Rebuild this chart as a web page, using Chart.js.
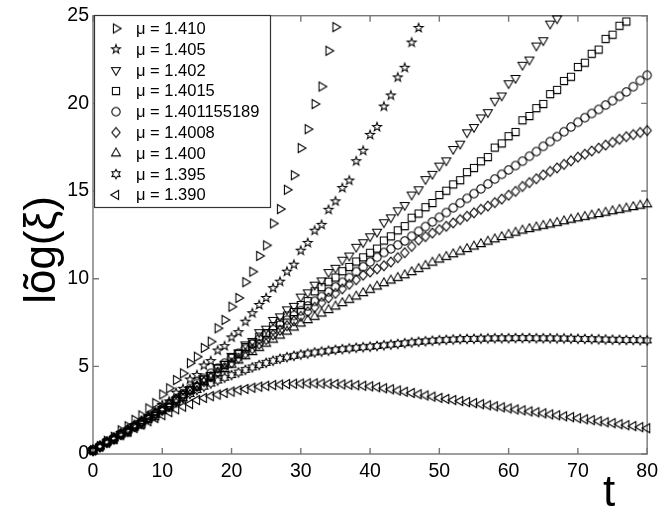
<!DOCTYPE html>
<html>
<head>
<meta charset="utf-8">
<script src="https://cdn.jsdelivr.net/npm/chart.js@4.4.0/dist/chart.umd.min.js"></script>
<style>
  html, body { margin: 0; padding: 0; background: #fff; }
  #chart { display: block; }
</style>
</head>
<body>
<canvas id="chart" width="664" height="514"></canvas>
<script>
// time steps (x axis)
const tSteps = [0,1,2,3,4,5,6,7,8,9,10,11,12,13,14,15,16,17,18,19,20,
  21,22,23,24,25,26,27,28,29,30,31,32,33,34,35,36,37,38,39,40,
  41,42,43,44,45,46,47,48,49,50,51,52,53,54,55,56,57,58,59,60,
  61,62,63,64,65,66,67,68,69,70,71,72,73,74,75,76,77,78,79,80];

const xTicks = [0, 10, 20, 30, 40, 50, 60, 70, 80];
const yTicks = [0, 5, 10, 15, 20, 25];

const muLabels = ['1.410', '1.405', '1.402', '1.4015', '1.401155189', '1.4008', '1.400', '1.395', '1.390'];

// log~(xi) per mu, one value per time step
const mu1410 = [0.22,0.45,0.75,0.98,1.35,1.58,1.95,2.2,2.6,2.9,3.4,3.75,4.22,4.6,5.18,5.55,6.05,6.41,7.17,7.65,
  8.4,8.9,9.8,10.4,11.3,11.9,13.15,13.97,15.07,15.9,17.45,18.53,19.96,20.96,23.0,24.35];

const mu1405 = [0.22,0.43,0.66,0.86,1.1,1.3,1.6,1.8,2.16,2.36,2.8,3.0,3.5,3.72,4.25,4.5,5.05,5.3,5.9,6.15,
  6.65,6.95,7.55,8.03,8.5,8.9,9.46,9.83,10.4,10.8,11.6,12.04,12.74,13.07,13.93,14.41,15.17,15.6,16.7,17.3,
  18.2,18.65,19.82,20.45,21.48,22.03,23.47,24.3];

const mu1402 = [0.22,0.42,0.7,0.86,1.14,1.3,1.6,1.76,2.06,2.24,2.56,2.74,3.1,3.3,3.7,3.9,4.3,4.5,4.95,5.15,
  5.6,5.8,6.25,6.45,6.95,7.15,7.65,7.85,8.25,8.45,8.98,9.22,9.66,9.9,10.38,10.62,11.08,11.32,11.82,12.08,
  12.42,12.68,13.22,13.5,13.9,14.2,14.8,15.1,15.68,15.98,16.45,16.75,17.4,17.7,18.35,18.65,19.2,19.5,20.15,20.45,
  21.15,21.45,22.2,22.5,23.3,23.6,24.55,24.85];

const mu14015 = [0.22,0.42,0.68,0.82,1.12,1.24,1.55,1.69,2.0,2.16,2.5,2.66,3.05,3.23,3.64,3.84,4.26,4.46,4.88,5.08,
  5.5,5.7,6.1,6.3,6.7,6.9,7.3,7.5,7.9,8.1,8.5,8.72,9.28,9.52,9.83,10.07,10.43,10.67,10.98,11.22,
  11.48,11.72,12.18,12.42,12.76,13.0,13.48,13.72,14.08,14.32,14.78,15.02,15.38,15.62,16.08,16.32,16.7,16.94,17.48,17.72,
  18.13,18.37,19.04,19.28,19.73,19.97,20.53,20.77,21.28,21.52,22.08,22.32,22.83,23.07,23.68,23.92,24.43,24.67];

const muCrit = [0.22,0.44,0.67,0.9,1.13,1.36,1.59,1.83,2.07,2.32,2.57,2.86,3.15,3.44,3.73,4.02,4.31,4.6,4.89,5.18,
  5.47,5.74,6.01,6.28,6.55,6.82,7.09,7.36,7.63,7.9,8.17,8.44,8.71,8.98,9.25,9.52,9.79,10.06,10.4,10.68,
  10.95,11.22,11.49,11.7,11.92,12.15,12.42,12.7,12.97,13.24,13.5,13.77,14.04,14.31,14.58,14.85,15.12,15.4,15.68,15.95,
  16.2,16.45,16.7,16.98,17.25,17.55,17.82,18.1,18.38,18.65,18.92,19.18,19.42,19.65,19.9,20.15,20.4,20.65,20.95,21.3,21.6];

const mu14008 = [0.2,0.43,0.66,0.89,1.12,1.35,1.59,1.83,2.07,2.32,2.57,2.83,3.09,3.35,3.61,3.87,4.13,4.4,4.67,4.94,
  5.2,5.47,5.73,6.0,6.27,6.53,6.8,7.06,7.32,7.59,7.85,8.11,8.37,8.63,8.9,9.16,9.42,9.68,9.94,10.2,
  10.38,10.56,10.74,10.95,11.2,11.48,11.84,12.2,12.4,12.6,12.8,12.99,13.18,13.37,13.56,13.76,13.96,14.14,14.34,14.54,
  14.76,14.98,15.26,15.48,15.7,15.92,16.12,16.32,16.52,16.72,16.93,17.1,17.28,17.45,17.62,17.78,17.95,18.1,18.22,18.34,18.45];

const mu1400 = [0.2,0.44,0.68,0.92,1.16,1.4,1.64,1.88,2.12,2.36,2.6,2.85,3.1,3.35,3.6,3.85,4.1,4.35,4.6,4.85,
  5.1,5.34,5.58,5.82,6.06,6.3,6.53,6.76,6.99,7.22,7.45,7.64,7.83,8.02,8.22,8.42,8.61,8.8,8.99,9.18,
  9.37,9.56,9.75,9.9,10.05,10.2,10.38,10.56,10.74,10.92,11.1,11.25,11.4,11.55,11.7,11.84,11.98,12.12,12.25,12.38,
  12.51,12.63,12.75,12.84,12.93,13.02,13.1,13.19,13.28,13.37,13.45,13.53,13.61,13.69,13.77,13.85,13.93,14.01,14.09,14.17,14.25];

const mu1395 = [0.2,0.43,0.66,0.89,1.12,1.35,1.58,1.8,2.02,2.24,2.46,2.7,2.94,3.18,3.42,3.65,3.84,4.02,4.19,4.35,
  4.5,4.65,4.8,4.94,5.07,5.2,5.32,5.43,5.52,5.6,5.67,5.73,5.79,5.84,5.89,5.94,5.98,6.02,6.06,6.09,
  6.12,6.16,6.2,6.24,6.28,6.32,6.36,6.4,6.43,6.46,6.49,6.51,6.53,6.55,6.56,6.57,6.58,6.59,6.6,6.6,
  6.6,6.61,6.61,6.61,6.6,6.6,6.6,6.59,6.59,6.58,6.57,6.56,6.55,6.54,6.53,6.52,6.51,6.5,6.5,6.49,6.48];

const mu1390 = [0.2,0.42,0.64,0.86,1.07,1.28,1.48,1.68,1.87,2.05,2.22,2.39,2.55,2.7,2.85,3.08,3.2,3.3,3.39,3.48,
  3.56,3.64,3.71,3.78,3.84,3.89,3.93,3.96,3.99,4.01,4.02,4.03,4.03,4.02,4.01,3.99,3.97,3.95,3.92,3.89,
  3.86,3.81,3.75,3.69,3.62,3.55,3.48,3.41,3.34,3.27,3.2,3.14,3.08,3.02,2.96,2.9,2.84,2.78,2.72,2.66,
  2.6,2.54,2.49,2.43,2.38,2.32,2.26,2.21,2.15,2.1,2.04,1.98,1.93,1.87,1.81,1.76,1.7,1.64,1.59,1.53,1.47];

// marker glyphs drawn once onto little canvases
function makeMarker(kind) {
  const s = 18;
  const c = document.createElement('canvas');
  c.width = s; c.height = s;
  const g = c.getContext('2d');
  g.strokeStyle = '#000';
  g.lineWidth = 1.05;
  g.translate(s / 2, s / 2);
  g.beginPath();
  const poly = (n, rOut, rIn, start, sx) => {
    const k = rIn ? n * 2 : n;
    for (let i = 0; i < k; i++) {
      const r = rIn && i % 2 ? rIn : rOut;
      const a = start + i * 2 * Math.PI / k;
      const px = Math.cos(a) * r * (sx || 1), py = Math.sin(a) * r;
      i ? g.lineTo(px, py) : g.moveTo(px, py);
    }
    g.closePath();
  };
  if (kind === 'right') poly(3, 5.2, 0, 0);
  else if (kind === 'down') poly(3, 5.2, 0, Math.PI / 2);
  else if (kind === 'left') poly(3, 5.2, 0, Math.PI);
  else if (kind === 'up') poly(3, 5.2, 0, -Math.PI / 2);
  else if (kind === 'square') g.rect(-3.6, -3.6, 7.2, 7.2);
  else if (kind === 'circle') g.arc(0, 0, 4.2, 0, Math.PI * 2);
  else if (kind === 'diamond') poly(4, 4.9, 0, -Math.PI / 2, 0.85);
  else if (kind === 'pentagram') poly(5, 4.7, 1.9, -Math.PI / 2);
  else if (kind === 'hexagram') poly(6, 4.7, 2.7, -Math.PI / 2);
  g.stroke();
  return c;
}

const seriesValues = [mu1410, mu1405, mu1402, mu14015, muCrit, mu14008, mu1400, mu1395, mu1390];
const markerKinds = ['right', 'pentagram', 'down', 'square', 'circle', 'diamond', 'up', 'hexagram', 'left'];
const markers = markerKinds.map(makeMarker);

const datasets = seriesValues.map((vals, k) => ({
  label: '\u03bc = ' + muLabels[k],
  data: vals.map((v, i) => ({ x: tSteps[i], y: v })),
  pointStyle: markers[k],
  pointRadius: 4,
  showLine: false,
  clip: false
}));

const FONT = "'Liberation Sans', Arial, sans-serif";

const frameAndText = {
  id: 'frameAndText',
  beforeDatasetsDraw(chart) {
    const { ctx, chartArea: a, scales: { x, y } } = chart;
    ctx.save();
    ctx.strokeStyle = '#777';
    ctx.lineWidth = 1.4;
    ctx.strokeRect(a.left, a.top, a.right - a.left, a.bottom - a.top);
    ctx.beginPath();
    xTicks.forEach(v => {
      const px = x.getPixelForValue(v);
      ctx.moveTo(px, a.bottom); ctx.lineTo(px, a.bottom - 6);
      ctx.moveTo(px, a.top); ctx.lineTo(px, a.top + 6);
    });
    yTicks.forEach(v => {
      const py = y.getPixelForValue(v);
      ctx.moveTo(a.left, py); ctx.lineTo(a.left + 6, py);
      ctx.moveTo(a.right, py); ctx.lineTo(a.right - 6, py);
    });
    ctx.stroke();
    ctx.restore();
  },
  afterDraw(chart) {
    const { ctx } = chart;
    ctx.save();
    // legend box
    const bx = 94.5, by = 15.5, bw = 176, bh = 192;
    ctx.fillStyle = '#fff';
    ctx.fillRect(bx, by, bw, bh);
    ctx.strokeStyle = '#333';
    ctx.lineWidth = 1.2;
    ctx.strokeRect(bx, by, bw, bh);
    ctx.font = '16.5px ' + FONT;
    ctx.fillStyle = '#000';
    ctx.textBaseline = 'middle';
    chart.data.datasets.forEach((ds, i) => {
      const cy = 28.5 + i * 20.8;
      const m = ds.pointStyle;
      ctx.drawImage(m, 116 - m.width / 2, cy - m.height / 2);
      ctx.fillText(ds.label, 136, cy + 1);
    });
    // axis titles
    ctx.font = '44px ' + FONT;
    ctx.textAlign = 'center';
    ctx.textBaseline = 'alphabetic';
    ctx.fillText('t', 609, 506);
    ctx.translate(55, 250);
    ctx.rotate(-Math.PI / 2);
    ctx.fillText('l\u00f5g(\u03be)', 0, 0);
    ctx.restore();
  }
};

new Chart(document.getElementById('chart'), {
  type: 'scatter',
  data: { datasets },
  options: {
    responsive: false,
    animation: false,
    layout: { padding: { left: 0, right: 15, top: 15, bottom: 0 } },
    plugins: { legend: { display: false }, tooltip: { enabled: false } },
    scales: {
      x: {
        type: 'linear', min: 0, max: 80,
        afterBuildTicks: s => { s.ticks = xTicks.map(v => ({ value: v })); },
        afterFit: s => { s.height = 60; },
        grid: { display: false, drawTicks: false },
        border: { display: false },
        ticks: { font: { family: FONT, size: 19.5 }, color: '#000', padding: 6, maxRotation: 0 }
      },
      y: {
        type: 'linear', min: 0, max: 25,
        afterBuildTicks: s => { s.ticks = yTicks.map(v => ({ value: v })); },
        afterFit: s => { s.width = 93; },
        grid: { display: false, drawTicks: false },
        border: { display: false },
        ticks: { font: { family: FONT, size: 19.5 }, color: '#000', padding: 4 }
      }
    }
  },
  plugins: [frameAndText]
});
</script>
</body>
</html>
